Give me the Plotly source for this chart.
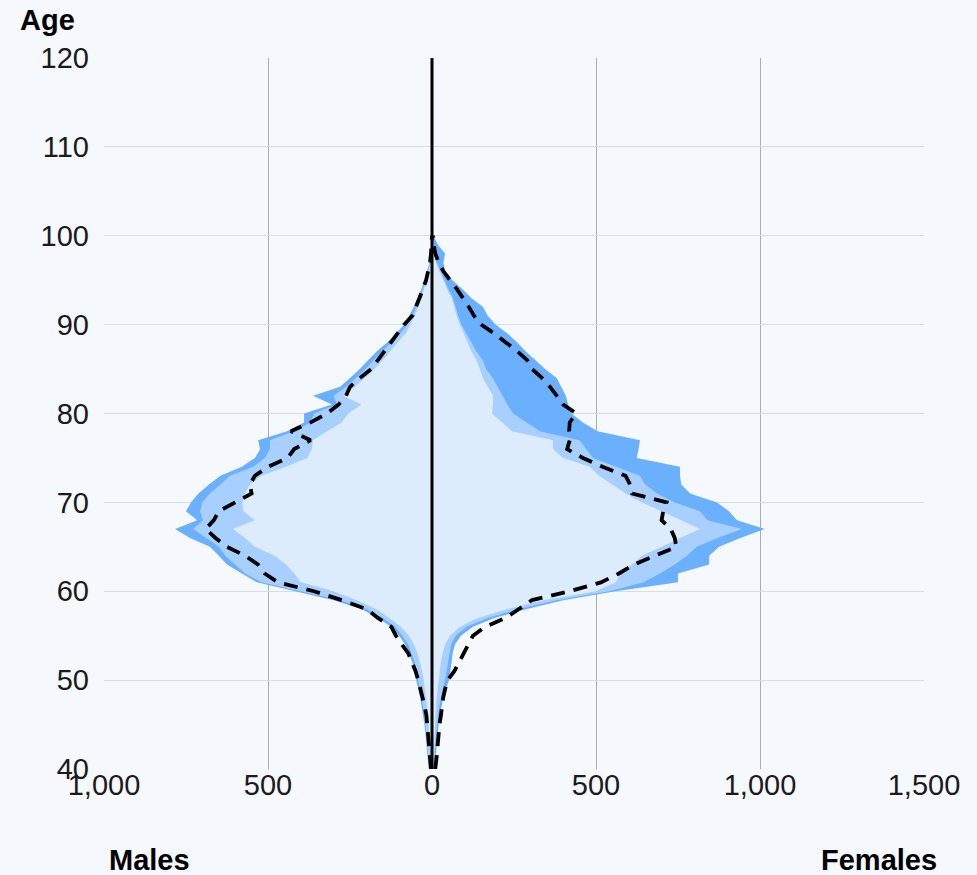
import plotly.graph_objects as go

ages = list(range(40, 101))

male_outer = [10,12,14,16,20,23,27,31,36,42,48,53,60,70,82,100,125,165,215,300,
              420,534,580,625,650,677,738,783,716,750,735,712,680,645,580,540,524,530,442,390,
              390,305,363,280,250,220,195,168,137,110,85,70,55,45,32,22,14,8,4,2,1]
male_mid = [8,10,12,14,17,20,23,27,31,36,42,47,53,62,73,90,113,150,200,280,
            400,520,570,600,630,650,690,728,698,707,700,677,645,616,545,510,494,494,420,370,
            360,290,300,262,232,203,178,150,122,97,75,60,48,38,27,18,11,6,3,1,0]
male_inner = [3,4,5,6,8,10,12,15,18,21,25,30,36,44,55,70,95,130,170,230,
              300,400,420,445,480,540,570,607,540,575,578,570,555,520,445,380,366,363,320,275,
              255,215,270,235,205,175,150,128,105,80,65,52,42,33,22,15,9,5,2,1,0]
male_dashed = [3,5,7,9,11,13,17,22,28,35,42,50,60,72,92,110,124,165,200,275,
               360,470,510,530,570,625,660,690,665,650,600,550,555,540,500,440,420,370,430,370,
               320,285,262,250,220,185,165,145,128,105,85,60,48,38,28,18,12,6,3,1,0]

female_outer = [8,10,12,14,17,20,24,28,34,42,52,56,60,63,70,88,125,190,290,400,
                560,750,750,845,845,875,940,1015,930,905,869,787,760,756,756,624,630,634,505,460,
                425,415,408,395,380,345,315,285,260,230,195,170,155,120,92,62,40,35,40,18,5]
female_mid = [6,7,9,11,13,15,18,22,27,33,40,44,48,52,58,72,105,170,265,380,
              540,645,695,740,777,807,870,945,840,817,740,686,650,634,560,491,470,450,329,290,
              247,230,216,200,185,165,155,135,120,105,90,80,72,64,50,38,25,15,8,4,1]
female_inner = [3,4,5,6,7,8,10,12,14,17,20,23,27,32,40,55,85,140,230,340,
                500,560,575,610,640,700,760,817,760,700,640,590,550,510,480,400,369,369,244,215,
                183,186,186,170,155,146,135,120,108,95,85,75,68,60,45,35,22,12,6,2,1]
female_dashed = [10,14,16,18,20,23,27,30,34,40,48,68,82,95,108,125,162,225,265,305,
                 420,515,570,615,680,745,740,728,700,705,715,610,604,590,520,460,412,420,418,420,
                 440,400,380,360,335,305,290,260,225,190,150,128,112,95,76,55,35,20,10,5,3]

axis_ages = list(range(40, 121))
x_ticks = [-1000, -500, 0, 500, 1000, 1500]
x_tick_labels = ["1,000", "500", "0", "500", "1,000", "1,500"]
y_ticks = list(range(40, 121, 10))

BG = "#F5F8FD"
C_OUTER = "#6AB0FF"
C_MID = "#A7CFFF"
C_INNER = "#DDECFD"
FONT = "Liberation Sans, Arial, sans-serif"

fig = go.Figure()

def area(vals, sign, color):
    fig.add_trace(go.Scatter(
        x=[sign * v for v in vals], y=ages, mode="lines", fill="tozerox",
        fillcolor=color, line=dict(width=0, color=color), hoverinfo="skip",
        showlegend=False))

for vals_m, vals_f, col in [(male_outer, female_outer, C_OUTER),
                            (male_mid, female_mid, C_MID),
                            (male_inner, female_inner, C_INNER)]:
    area(vals_m, -1, col)
    area(vals_f, 1, col)

for vals, sign in [(male_dashed, -1), (female_dashed, 1)]:
    fig.add_trace(go.Scatter(
        x=[sign * v for v in vals], y=ages, mode="lines",
        line=dict(color="black", width=3.8, dash="14px,9px"),
        hoverinfo="skip", showlegend=False))

fig.add_trace(go.Scatter(
    x=[0 for _ in axis_ages], y=axis_ages, mode="lines",
    line=dict(color="black", width=3), hoverinfo="skip", showlegend=False))

fig.update_layout(
    width=977, height=875,
    margin=dict(l=104, r=53, t=58, b=106),
    paper_bgcolor=BG, plot_bgcolor=BG,
    font=dict(family=FONT, size=29, color="#1a1a1a"),
    showlegend=False,
    xaxis=dict(range=[-1000, 1500], tickvals=x_ticks, ticktext=x_tick_labels,
               showgrid=True, gridcolor="#ABABAB", gridwidth=1, zeroline=False,
               showline=False, ticks="", ticklabelstandoff=-4, fixedrange=True),
    yaxis=dict(range=[40, 120], tickvals=y_ticks, showgrid=True,
               gridcolor="#DCDCDC", gridwidth=1, zeroline=False, showline=False,
               ticks="", ticklabelstandoff=14, fixedrange=True),
    annotations=[
        dict(text="<b>Age</b>", x=-0.0695, y=1.0534, xref="paper", yref="paper",
             xanchor="center", yanchor="middle", showarrow=False,
             font=dict(size=29, family=FONT, color="#000")),
        dict(text="<b>Males</b>", x=0.0549, y=-0.128, xref="paper", yref="paper",
             xanchor="center", yanchor="middle", showarrow=False,
             font=dict(size=29, family=FONT, color="#000")),
        dict(text="<b>Females</b>", x=0.945, y=-0.128, xref="paper", yref="paper",
             xanchor="center", yanchor="middle", showarrow=False,
             font=dict(size=29, family=FONT, color="#000")),
    ],
)

fig.write_html(
    "out.html",
    config={"displayModeBar": False},
    post_script="document.body.style.margin='0';document.body.style.background='#F5F8FD';",
)
